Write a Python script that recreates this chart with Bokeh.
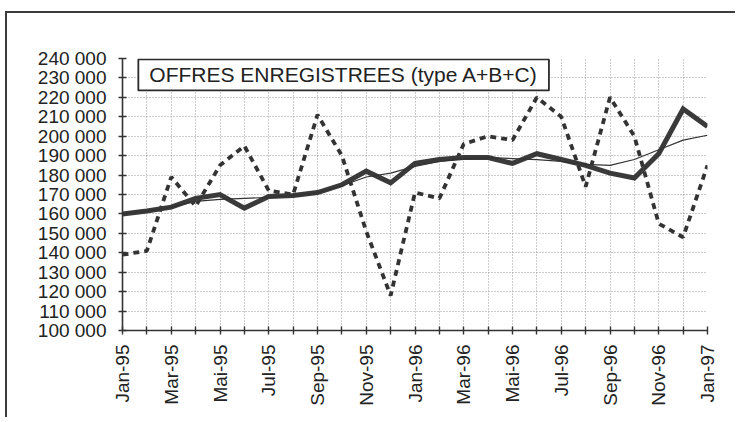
import math
from bokeh.plotting import figure
from bokeh.models import Range1d, FixedTicker, Label, ColumnDataSource
from bokeh.embed import file_html
from bokeh.resources import INLINE

# ---- data ----
months = ["Jan-95", "Fév-95", "Mar-95", "Avr-95", "Mai-95", "Juin-95", "Jul-95", "Aoû-95",
          "Sep-95", "Oct-95", "Nov-95", "Déc-95", "Jan-96", "Fév-96", "Mar-96", "Avr-96",
          "Mai-96", "Juin-96", "Jul-96", "Aoû-96", "Sep-96", "Oct-96", "Nov-96", "Déc-96",
          "Jan-97"]
brutes = [139000, 141000, 179000, 164000, 185000, 195000, 172000, 170000, 211000, 190000,
          151000, 118000, 171000, 168000, 196000, 200000, 198000, 220000, 210000, 174000,
          220000, 200000, 155000, 148000, 185000]
cvs = [160000, 161500, 163500, 168000, 170000, 163000, 169000, 169500, 171000, 175000,
       182000, 176000, 186000, 188000, 189000, 189000, 186000, 191000, 188000, 185000,
       181000, 178500, 191000, 214000, 205000]
tendance = [160000, 161500, 163500, 166500, 167500, 168000, 168500, 169500, 171000, 174500,
            179000, 181000, 184500, 187000, 188500, 189000, 188500, 188000, 187000, 185500,
            185000, 188000, 193000, 198000, 200500]
y_ticks = [100000, 110000, 120000, 130000, 140000, 150000, 160000, 170000,
           180000, 190000, 200000, 210000, 220000, 230000, 240000]
y_tick_labels = ["100 000", "110 000", "120 000", "130 000", "140 000", "150 000", "160 000",
                 "170 000", "180 000", "190 000", "200 000", "210 000", "220 000", "230 000",
                 "240 000"]
title_text = "OFFRES ENREGISTREES (type A+B+C)"

x = list(range(len(months)))
src = ColumnDataSource(dict(x=x, brutes=brutes, cvs=cvs, tendance=tendance))

INK = "#333333"
FONT = "Liberation Sans"

p = figure(width=730, height=406, x_range=Range1d(0, len(months) - 1),
           y_range=Range1d(y_ticks[0], y_ticks[-1]),
           output_backend="svg", toolbar_location=None,
           min_border_left=115, min_border_right=30, min_border_top=45, min_border_bottom=89)
p.styles = {"border-top": "2px solid #3c3c3c", "border-left": "2px solid #3c3c3c",
            "margin-top": "11px", "margin-left": "5px"}
p.outline_line_color = None
p.background_fill_color = "white"
p.border_fill_color = "white"

# axes
p.xaxis.ticker = FixedTicker(ticks=x)
p.xaxis.major_label_overrides = {i: (m if i % 2 == 0 else "") for i, m in enumerate(months)}
p.xaxis.major_label_orientation = math.pi / 2
p.yaxis.ticker = FixedTicker(ticks=y_ticks)
p.yaxis.major_label_overrides = {t: l for t, l in zip(y_ticks, y_tick_labels)}
for ax in (p.xaxis[0], p.yaxis[0]):
    ax.axis_line_color = INK
    ax.axis_line_width = 1.6
    ax.major_tick_line_color = INK
    ax.major_tick_line_width = 1.4
    ax.major_tick_in = 4
    ax.major_tick_out = 4
    ax.minor_tick_line_color = None
    ax.major_label_text_font = FONT
    ax.major_label_text_font_size = "19px"
    ax.major_label_text_color = "#222222"
p.xaxis.major_label_standoff = 10
p.yaxis.major_label_standoff = 12

for g in (p.xgrid[0], p.ygrid[0]):
    g.grid_line_color = "#9a9a9a"
    g.grid_line_dash = "1 2"
    g.grid_line_width = 1
p.xgrid.ticker = FixedTicker(ticks=x)
p.ygrid.ticker = FixedTicker(ticks=y_ticks)

# series
p.line("x", "brutes", source=src, line_color=INK, line_width=3.8, line_dash="6 5")
p.line("x", "cvs", source=src, line_color="#3a3a3a", line_width=5, line_join="miter")
p.line("x", "tendance", source=src, line_color=INK, line_width=1.2)

# title box
lab = Label(x=0.65, y=239500, text=title_text, anchor="top_left",
            text_font=FONT, text_font_size="21px", text_color="#222222",
            border_line_color="#2a2a2a", border_line_width=1.8,
            background_fill_color="white", padding=(11, 4))
p.add_layout(lab)

open("out.html", "w").write(file_html(p, INLINE))
